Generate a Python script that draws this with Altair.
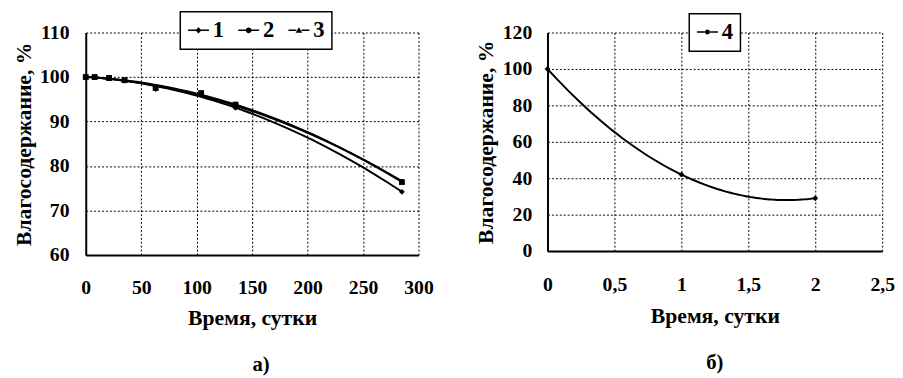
import altair as alt
import pandas as pd

# ---- data: panel a) ----
t_a = [0, 8, 21, 35, 63, 104, 135, 285]
s1 = [100, 100, 99.7, 99.2, 97.3, 96.0, 93.1, 74.2]
s2 = [100, 100, 99.8, 99.3, 97.6, 96.4, 93.8, 76.4]
s3 = [100, 100, 99.7, 99.3, 97.5, 96.2, 93.5, 76.6]
series_a = ["1", "2", "3"]
x_ticks_a = [0, 50, 100, 150, 200, 250, 300]
y_ticks_a = [60, 70, 80, 90, 100, 110]

# ---- data: panel б) ----
t_b = [0, 1, 2]
s4 = [100, 42, 29]
x_ticks_b = [0, 0.5, 1, 1.5, 2, 2.5]
y_ticks_b = [0, 20, 40, 60, 80, 100, 120]

rows = []
for name, vals in zip(series_a, [s1, s2, s3]):
    for t, v in zip(t_a, vals):
        rows.append({"t": t, "v": v, "s": name})
df_a = pd.DataFrame(rows)
df_b = pd.DataFrame({"t": t_b, "v": s4, "s": ["4"] * len(t_b)})

FONT = "Times New Roman, Liberation Serif, Times, serif"
SEG = "M-1,-0.07H-0.25V0.07H-1ZM0.25,-0.07H1V0.07H0.25Z"
P_DIAMOND = SEG + "M0,-0.3L0.3,0L0,0.3L-0.3,0Z"
P_CIRCLE = SEG + "M-0.28,0A0.28,0.28,0,1,1,0.28,0A0.28,0.28,0,1,1,-0.28,0Z"
P_TRI = SEG + "M0,-0.3L0.32,0.24L-0.32,0.24Z"
P_DOT = SEG + "M-0.24,0A0.24,0.24,0,1,1,0.24,0A0.24,0.24,0,1,1,-0.24,0Z"


def axis(values, title, lpad=18, tpad=6):
    return alt.Axis(
        values=values, title=title, ticks=False, labelFlush=False,
        labelExpr="replace(format(datum.value, '~g'), '.', ',')",
        domainColor="black", domainWidth=2,
        grid=True, gridColor="black", gridDash=[2, 2], gridWidth=1, gridOpacity=1,
        labelFont=FONT, labelFontWeight="bold", labelFontSize=20, labelColor="black",
        labelPadding=lpad,
        titleFont=FONT, titleFontWeight="bold", titleFontSize=22, titleColor="black",
        titlePadding=tpad,
    )


def legend(lx, ly):
    return alt.Legend(
        orient="none", legendX=lx, legendY=ly, direction="horizontal", title=None,
        strokeColor="black", fillColor="white", padding=7,
        cornerRadius=0,
        symbolFillColor="black", symbolStrokeColor="black", symbolStrokeWidth=0,
        symbolOpacity=1, symbolSize=450,
        labelFont=FONT, labelFontSize=23, labelFontWeight="bold", labelColor="black",
        labelOffset=3, columnPadding=13,
    )


# ---------- panel a ----------
xa = alt.X("t:Q", scale=alt.Scale(domain=[0, 300], nice=False),
           axis=axis(x_ticks_a, "Время, сутки", lpad=23, tpad=11))
ya = alt.Y("v:Q", scale=alt.Scale(domain=[60, 110], nice=False),
           axis=axis(y_ticks_a, "Влагосодержание, %", lpad=17, tpad=4))

base_a = alt.Chart(df_a)
curves_a = base_a.transform_regression(
    "t", "v", groupby=["s"], method="poly", order=2
).mark_line(color="black", strokeWidth=2).encode(x=xa, y=ya, detail="s:N")

shapes = {"1": "diamond", "2": "square", "3": "triangle-up"}
pts_a = [
    base_a.transform_filter(alt.datum.s == k)
    .mark_point(shape=shp, filled=True, size=35, color="black", opacity=1)
    .encode(x=xa, y=ya)
    for k, shp in shapes.items()
]
leg_a = base_a.mark_point(opacity=0, filled=True, color="black").encode(
    x=xa, y=ya,
    shape=alt.Shape("s:N", scale=alt.Scale(domain=series_a, range=[P_DIAMOND, P_CIRCLE, P_TRI]),
                    legend=legend(96, -21)),
)
left = alt.layer(curves_a, *pts_a, leg_a).properties(
    width=338, height=226,
    title=alt.TitleParams("а)", orient="bottom", font=FONT, fontSize=21, fontWeight="bold",
                          color="black", offset=26, dx=9),
)

# ---------- panel b ----------
xb = alt.X("t:Q", scale=alt.Scale(domain=[0, 2.5], nice=False),
           axis=axis(x_ticks_b, "Время, сутки", lpad=24, tpad=12))
yb = alt.Y("v:Q", scale=alt.Scale(domain=[0, 120], nice=False),
           axis=axis(y_ticks_b, "Влагосодержание, %", lpad=16, tpad=5))

base_b = alt.Chart(df_b)
curve_b = base_b.transform_regression(
    "t", "v", method="poly", order=2
).mark_line(color="black", strokeWidth=2).encode(x=xb, y=yb)
pts_b = base_b.mark_point(shape="diamond", filled=True, size=35, color="black", opacity=1).encode(x=xb, y=yb)
leg_b = base_b.mark_point(opacity=0, filled=True, color="black").encode(
    x=xb, y=yb,
    shape=alt.Shape("s:N", scale=alt.Scale(domain=["4"], range=[P_DOT]),
                    legend=legend(144, -19)),
)
right = alt.layer(curve_b, pts_b, leg_b).properties(
    width=340, height=222,
    title=alt.TitleParams("б)", orient="bottom", font=FONT, fontSize=21, fontWeight="bold",
                          color="black", offset=26),
)

chart = alt.hconcat(left, right, spacing=42).resolve_scale(
    shape="independent", x="independent", y="independent"
).properties(
    padding={"left": 5, "top": 0, "right": 0, "bottom": 0},
    background="white",
).configure(font=FONT).configure_view(stroke=None).configure_legend(
    strokeWidth=1.5
).configure_axis(labelFont=FONT, titleFont=FONT).configure_title(font=FONT)

chart.save("out.html", embed_options={"renderer": "svg", "actions": False})
